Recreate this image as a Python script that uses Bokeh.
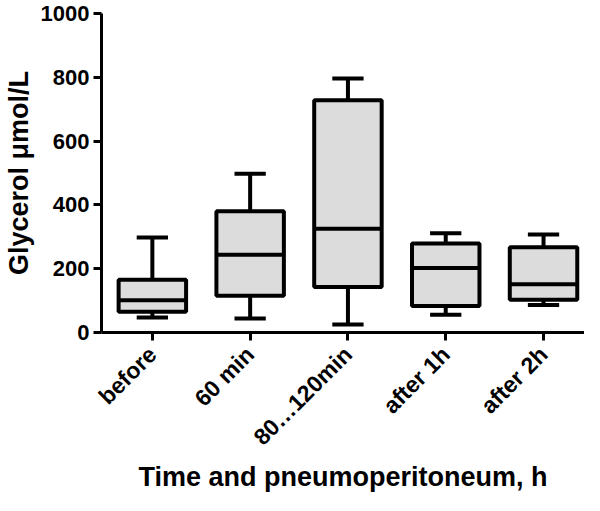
import math
from bokeh.plotting import figure
from bokeh.models import Range1d, FixedTicker
from bokeh.embed import file_html
from bokeh.resources import INLINE

categories = ["before", "60 min", "80\u2026120min", "after 1h", "after 2h"]
whisker_low = [47, 44, 25, 56, 86]
q1 = [65, 115, 143, 83, 103]
median = [101, 244, 325, 202, 151]
q3 = [165, 380, 728, 279, 267]
whisker_high = [298, 498, 796, 311, 307]
y_ticks = [0, 200, 400, 600, 800, 1000]

xs = list(range(1, len(categories) + 1))
box_w = 0.69
cap_w = 0.32

FONT = "Liberation Sans"

p = figure(width=584, height=495, output_backend="svg", toolbar_location=None,
           x_range=Range1d(0.48, 5.419), y_range=Range1d(0, 1000),
           min_border_left=100, min_border_right=0, min_border_top=13,
           min_border_bottom=150)
p.outline_line_color = None
p.xgrid.grid_line_color = None
p.ygrid.grid_line_color = None
p.background_fill_color = "white"

# whiskers
p.segment(x0=xs, y0=q3, x1=xs, y1=whisker_high, line_color="black", line_width=4)
p.segment(x0=xs, y0=q1, x1=xs, y1=whisker_low, line_color="black", line_width=4)
# caps
p.segment(x0=[x - cap_w / 2 for x in xs], y0=whisker_high,
          x1=[x + cap_w / 2 for x in xs], y1=whisker_high, line_color="black", line_width=4)
p.segment(x0=[x - cap_w / 2 for x in xs], y0=whisker_low,
          x1=[x + cap_w / 2 for x in xs], y1=whisker_low, line_color="black", line_width=4)
# boxes
p.vbar(x=xs, width=box_w, bottom=q1, top=q3, fill_color="#dcdcdc",
       line_color="black", line_width=4)
# medians
p.segment(x0=[x - box_w / 2 for x in xs], y0=median,
          x1=[x + box_w / 2 for x in xs], y1=median, line_color="black", line_width=4)

for ax in (p.xaxis, p.yaxis):
    ax.axis_line_width = 3
    ax.major_tick_line_width = 3
    ax.major_tick_out = 8
    ax.major_tick_in = 0
    ax.minor_tick_line_color = None
    ax.major_label_text_font = FONT
    ax.major_label_text_font_style = "bold"
    ax.major_label_text_font_size = "22px"
    ax.major_label_text_color = "black"
    ax.axis_line_color = "black"
    ax.major_tick_line_color = "black"
    ax.axis_label_text_font = FONT
    ax.axis_label_text_font_style = "bold"
    ax.axis_label_text_font_size = "27px"
    ax.axis_label_text_color = "black"

p.xaxis.ticker = FixedTicker(ticks=xs)
p.xaxis.major_label_overrides = {x: c for x, c in zip(xs, categories)}
p.xaxis.major_label_orientation = math.pi / 4
p.xaxis.major_label_text_font_size = "23px"
p.xaxis.major_label_standoff = 10
p.xaxis.axis_label = "Time and pneumoperitoneum, h"
p.xaxis.axis_label_standoff = 0

p.yaxis.ticker = FixedTicker(ticks=y_ticks)
p.yaxis.major_label_standoff = 4
p.yaxis.axis_label = "Glycerol \u03bcmol/L"
p.yaxis.axis_label_standoff = 4

open("out.html", "w").write(file_html(p, INLINE))
